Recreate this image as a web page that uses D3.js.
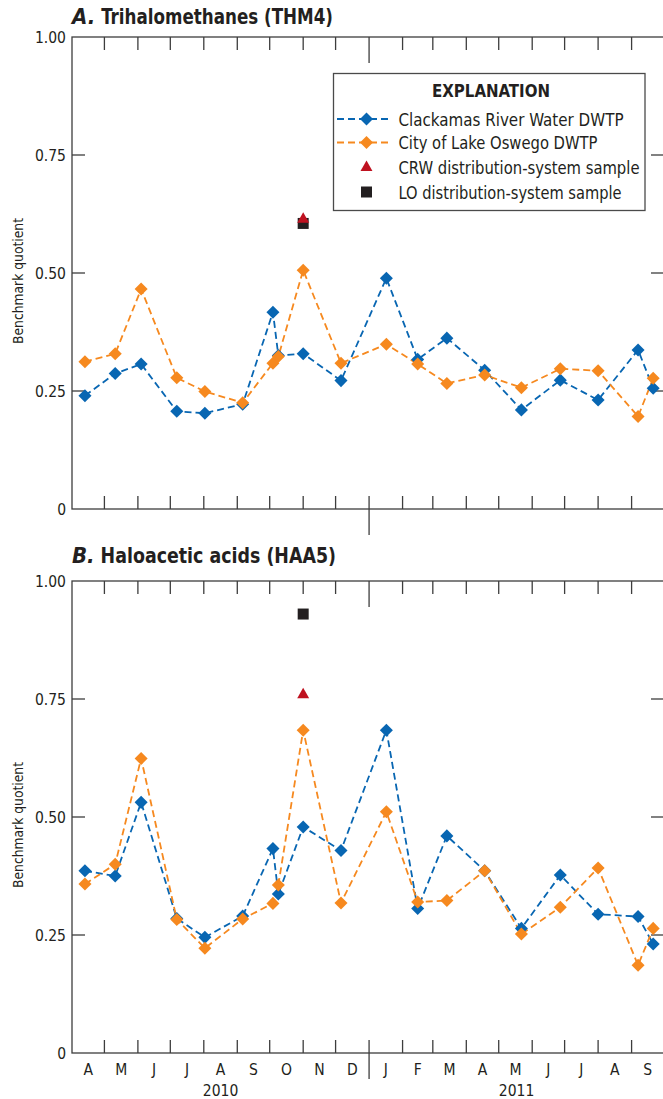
<!DOCTYPE html>
<html>
<head>
<meta charset="utf-8">
<script src="https://cdn.jsdelivr.net/npm/d3@7"></script>
<style>
  html, body { margin: 0; padding: 0; background: #fff; }
  svg { display: block; }
  text { font-family: "Liberation Sans Narrow", "DejaVu Sans Condensed", "Arial Narrow", sans-serif; fill: #231f20; }
</style>
</head>
<body>
<svg id="chart" width="663" height="1099"></svg>
<script>
// Sampling dates shared by both treatment-plant series
const sampleDates = [
  "2010-04-13", "2010-05-11", "2010-06-04", "2010-07-07", "2010-08-02", "2010-09-06",
  "2010-10-04", "2010-10-09", "2010-11-01", "2010-12-06", "2011-01-17", "2011-02-15",
  "2011-03-14", "2011-04-18", "2011-05-22", "2011-06-27", "2011-08-01", "2011-09-07",
  "2011-09-21"
];

// Trihalomethanes (THM4) benchmark quotients
const thmCRW = [0.240, 0.287, 0.307, 0.207, 0.203, 0.222, 0.417, 0.325, 0.329, 0.272, 0.489, 0.317,
                0.362, 0.294, 0.210, 0.273, 0.231, 0.337, 0.256];
const thmLO  = [0.312, 0.329, 0.466, 0.278, 0.249, 0.225, 0.309, 0.323, 0.506, 0.309, 0.349, 0.307,
                0.266, 0.284, 0.257, 0.297, 0.293, 0.196, 0.277];

// Haloacetic acids (HAA5) benchmark quotients
const haaCRW = [0.386, 0.375, 0.531, 0.285, 0.245, 0.290, 0.433, 0.337, 0.479, 0.429, 0.684, 0.306,
                0.460, 0.386, 0.264, 0.377, 0.294, 0.289, 0.231];
const haaLO  = [0.358, 0.400, 0.624, 0.283, 0.222, 0.284, 0.317, 0.356, 0.684, 0.318, 0.511, 0.320,
                0.323, 0.386, 0.252, 0.309, 0.392, 0.186, 0.264];

// Distribution-system samples (THM4, HAA5)
const distDate = "2010-11-01";
const distCRW = [0.614, 0.759];
const distLO  = [0.605, 0.930];

// Axis labels
const yTickValues = [0, 0.25, 0.5, 0.75, 1];
const yTickLabels = ["0", "0.25", "0.50", "0.75", "1.00"];
const monthLabels = ["A", "M", "J", "J", "A", "S", "O", "N", "D", "J", "F", "M", "A", "M", "J", "J", "A", "S"];
const yearLabels = ["2010", "2011"];
const panelLetters = ["A.", "B."];
const panelTitles = ["Trihalomethanes (THM4)", "Haloacetic acids (HAA5)"];
const legendTitle = "EXPLANATION";
const legendLabels = ["Clackamas River Water DWTP", "City of Lake Oswego DWTP",
                      "CRW distribution-system sample", "LO distribution-system sample"];
const yAxisTitle = "Benchmark quotient";

const BLUE = "#0866b2", ORANGE = "#f6891f", RED = "#bf1220", BLACK = "#231f20", AXIS = "#3d3d3d";

const parse = d3.timeParse("%Y-%m-%d");
const svg = d3.select("#chart");

const left = 72, right = 664;
const startDate = new Date(2010, 3, 1), endDate = new Date(2011, 9, 1);
const x = d3.scaleTime().domain([startDate, endDate]).range([left, right]);
const months = d3.timeMonth.range(startDate, endDate);
const yearBreak = new Date(2011, 0, 1);

const panels = [
  { top: 37, bottom: 509, crw: thmCRW, lo: thmLO, titleY: 24, titleEnd: 333, idx: 0, showX: false, legend: true },
  { top: 581, bottom: 1053, crw: haaCRW, lo: haaLO, titleY: 563, titleEnd: 336, idx: 1, showX: true, legend: false }
];

const diamond = d3.symbol(d3.symbolSquare, 85);
const tri = d3.symbol(d3.symbolTriangle, 62);
const sq = d3.symbol(d3.symbolSquare, 121);
const TICK = 13;

panels.forEach(p => {
  const y = d3.scaleLinear().domain([0, 1]).range([p.bottom, p.top]);
  const g = svg.append("g");

  // Panel title: italic letter followed by the constituent group name
  const letter = g.append("text")
    .attr("x", left).attr("y", p.titleY)
    .attr("font-size", 22).attr("font-weight", "bold").attr("font-style", "italic")
    .text(panelLetters[p.idx]);
  const lw = letter.node().getComputedTextLength();
  const nameX = left + lw + 6;
  g.append("text")
    .attr("x", nameX).attr("y", p.titleY)
    .attr("font-size", 22).attr("font-weight", "bold")
    .attr("textLength", p.titleEnd - nameX).attr("lengthAdjust", "spacingAndGlyphs")
    .text(panelTitles[p.idx]);

  // Y axis title
  const yc = (p.top + p.bottom) / 2 + 8;
  g.append("text")
    .attr("transform", `translate(23,${yc}) rotate(-90)`)
    .attr("text-anchor", "middle")
    .attr("font-size", 14.5)
    .attr("textLength", 126).attr("lengthAdjust", "spacingAndGlyphs")
    .text(yAxisTitle);

  // Frame
  const axes = g.append("g").attr("stroke", AXIS).attr("stroke-width", 1.3).attr("fill", "none");
  axes.append("rect").attr("x", left).attr("y", p.top)
    .attr("width", right - left).attr("height", p.bottom - p.top);

  // Y ticks (inward on both sides) and labels
  yTickValues.forEach((v, i) => {
    const yy = y(v);
    if (v > 0 && v < 1) {
      axes.append("line").attr("x1", left).attr("x2", left + TICK).attr("y1", yy).attr("y2", yy);
      axes.append("line").attr("x1", right - TICK).attr("x2", right).attr("y1", yy).attr("y2", yy);
    }
    g.append("text")
      .attr("x", 66).attr("y", yy).attr("dy", "0.36em")
      .attr("text-anchor", "end").attr("font-size", 15.5)
      .text(yTickLabels[i]);
  });

  // Month ticks at top and bottom; year break drawn longer
  months.slice(1).forEach(m => {
    const xx = x(m);
    const isBreak = +m === +yearBreak;
    axes.append("line").attr("x1", xx).attr("x2", xx)
      .attr("y1", p.top).attr("y2", p.top + (isBreak ? 26 : TICK));
    axes.append("line").attr("x1", xx).attr("x2", xx)
      .attr("y1", p.bottom - TICK).attr("y2", p.bottom + (isBreak ? 26 : 0));
  });

  if (p.showX) {
    months.forEach((m, i) => {
      const next = d3.timeMonth.offset(m, 1);
      g.append("text")
        .attr("x", (x(m) + x(next)) / 2).attr("y", p.bottom + 16).attr("dy", "0.36em")
        .attr("text-anchor", "middle").attr("font-size", 15.5)
        .text(monthLabels[i]);
    });
    const yearSpans = [[startDate, yearBreak], [yearBreak, endDate]];
    yearSpans.forEach((s, i) => {
      g.append("text")
        .attr("x", (x(s[0]) + x(s[1])) / 2).attr("y", p.bottom + 37).attr("dy", "0.36em")
        .attr("text-anchor", "middle").attr("font-size", 15.5)
        .text(yearLabels[i]);
    });
  }

  // Series
  const series = [
    { vals: p.crw, color: BLUE },
    { vals: p.lo, color: ORANGE }
  ];
  const line = d3.line().x(d => x(d.date)).y(d => y(d.v));
  series.forEach(s => {
    const data = sampleDates.map((d, i) => ({ date: parse(d), v: s.vals[i] }));
    g.append("path").datum(data)
      .attr("d", line).attr("fill", "none")
      .attr("stroke", s.color).attr("stroke-width", 1.8)
      .attr("stroke-dasharray", "7,4");
  });
  series.forEach(s => {
    const data = sampleDates.map((d, i) => ({ date: parse(d), v: s.vals[i] }));
    g.selectAll(null).data(data).join("path")
      .attr("d", diamond)
      .attr("transform", d => `translate(${x(d.date)},${y(d.v)}) rotate(45)`)
      .attr("fill", s.color);
  });

  // Distribution-system samples
  const dx = x(parse(distDate));
  g.append("path").attr("d", sq)
    .attr("transform", `translate(${dx},${y(distLO[p.idx])})`).attr("fill", BLACK);
  g.append("path").attr("d", tri)
    .attr("transform", `translate(${dx},${y(distCRW[p.idx])})`).attr("fill", RED);

  // Legend
  if (p.legend) {
    const lg = svg.append("g");
    lg.append("rect").attr("x", 333.5).attr("y", 73.5).attr("width", 311.5).attr("height", 137)
      .attr("fill", "#fff").attr("stroke", "#4a4a4a").attr("stroke-width", 1.3);
    lg.append("text").attr("x", 491).attr("y", 96.5).attr("text-anchor", "middle")
      .attr("font-size", 17).attr("font-weight", "bold")
      .attr("textLength", 118).attr("lengthAdjust", "spacingAndGlyphs")
      .text(legendTitle);
    const rows = [119, 142.5, 167.5, 192];
    const widths = [225, 199, 241, 223];
    legendLabels.forEach((lab, i) => {
      lg.append("text").attr("x", 398.5).attr("y", rows[i] + 6.5)
        .attr("font-size", 17.5)
        .attr("textLength", widths[i]).attr("lengthAdjust", "spacingAndGlyphs")
        .text(lab);
    });
    [BLUE, ORANGE].forEach((c, i) => {
      lg.append("line").attr("x1", 337).attr("x2", 392).attr("y1", rows[i]).attr("y2", rows[i])
        .attr("stroke", c).attr("stroke-width", 1.8).attr("stroke-dasharray", "7,4");
      lg.append("path").attr("d", diamond)
        .attr("transform", `translate(366.5,${rows[i]}) rotate(45)`).attr("fill", c);
    });
    lg.append("path").attr("d", tri).attr("transform", `translate(366.5,${rows[2]})`).attr("fill", RED);
    lg.append("path").attr("d", sq).attr("transform", `translate(366.5,${rows[3]})`).attr("fill", BLACK);
  }
});
</script>
</body>
</html>
